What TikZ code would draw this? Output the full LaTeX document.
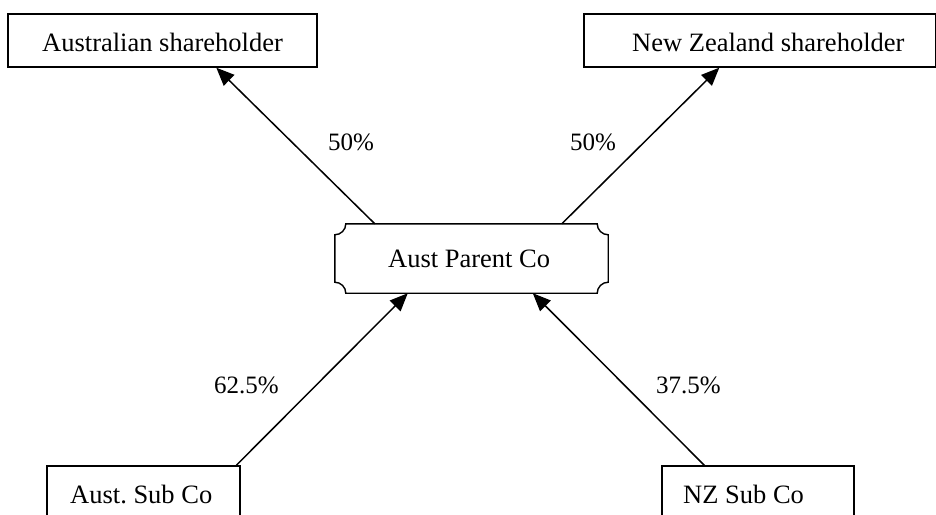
\documentclass[tikz,border=0pt]{standalone}
\usepackage{fontspec}
\setmainfont{Liberation Serif}
\usetikzlibrary{arrows.meta}
\tikzset{
  box/.style={draw, line width=1.4pt, rectangle, inner sep=0pt},
  plaque/.style={line width=1.4pt},
  txt/.style={anchor=base west, inner sep=0pt, font=\fontsize{26.5}{30}\selectfont},
  conn/.style={line width=1.5pt, -{Triangle[length=18pt,width=15pt]}},
  pct/.style={anchor=base west, inner sep=0pt, font=\fontsize{25}{28}\selectfont}
}
\begin{document}
\frenchspacing
\begin{tikzpicture}[x=1pt,y=1pt]
\useasboundingbox (0,0) rectangle (936,-514);
\clip (0,0) rectangle (936,-514);
% top boxes
\node[box, minimum width=309pt, minimum height=53pt] (au) at (162.5,-40.5) {};
\node[txt] (aut) at (42,-51.5) {Australian shareholder};
\node[box, minimum width=351.5pt, minimum height=53pt] (nz) at (759.75,-40.5) {};
\node[txt] (nzt) at (632,-51.5) {New Zealand shareholder};
% parent (plaque with concave corners)
\node[minimum width=273pt, minimum height=69pt, inner sep=0pt] (parent) at (471.5,-258.5) {};
\draw[plaque] ([xshift=11pt]parent.north west) -- ([xshift=-11pt]parent.north east)
  arc[start angle=180,end angle=270,radius=11pt] -- ([yshift=11pt]parent.south east)
  arc[start angle=90,end angle=180,radius=11pt] -- ([xshift=11pt]parent.south west)
  arc[start angle=0,end angle=90,radius=11pt] -- ([yshift=-11pt]parent.north west)
  arc[start angle=270,end angle=360,radius=11pt] -- cycle;
\node[txt] (parentt) at (388,-267) {Aust Parent Co};
% bottom boxes
\node[box, minimum width=193pt, minimum height=64pt] (asub) at (143.5,-498) {};
\node[txt] (asubt) at (70,-503) {Aust. Sub Co};
\node[box, minimum width=192pt, minimum height=64pt] (nsub) at (758,-498) {};
\node[txt] (nsubt) at (683,-503) {NZ Sub Co};
% connectors
\draw[conn] ([xshift=40pt]parent.north west) -- ([xshift=209pt]au.south west);
\draw[conn] ([xshift=227pt]parent.north west) -- ([xshift=136pt]nz.south west);
\draw[conn] ([xshift=190pt]asub.north west) -- ([xshift=73pt]parent.south west);
\draw[conn] ([xshift=43pt]nsub.north west) -- ([xshift=198pt]parent.south west);
% labels
\node[pct] (l1) at (328,-150) {50\%};
\node[pct] (l2) at (570,-150) {50\%};
\node[pct] (l3) at (214,-393) {62.5\%};
\node[pct] (l4) at (656,-393) {37.5\%};
\end{tikzpicture}
\end{document}
